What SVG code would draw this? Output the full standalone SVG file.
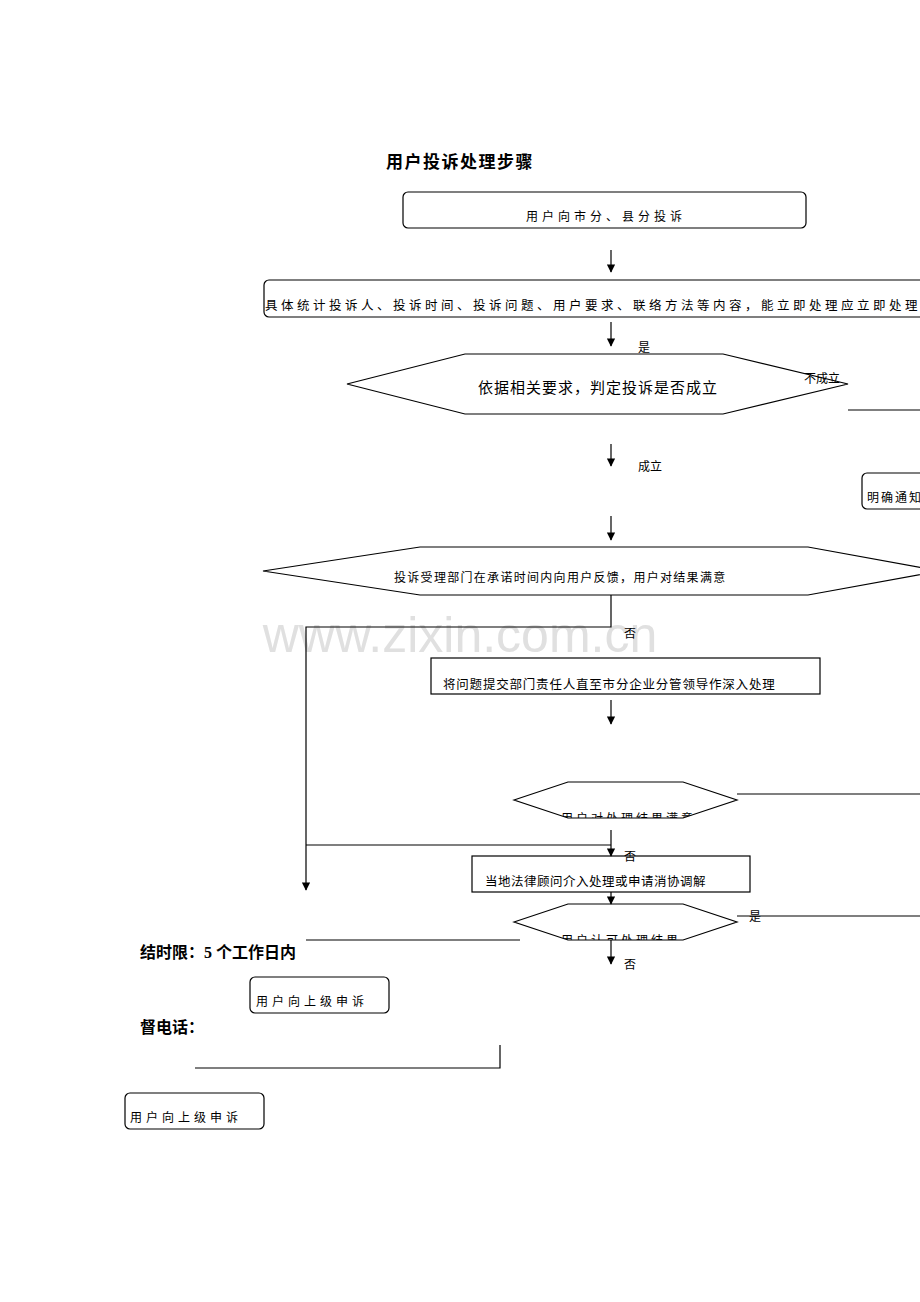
<svg xmlns="http://www.w3.org/2000/svg" width="920" height="1302" viewBox="0 0 920 1302">
<style>
text{font-family:"Liberation Serif","Noto Sans CJK SC",serif;fill:#000}
.s{fill:#fff;stroke:#000;stroke-width:1.2}
.l{stroke:#000;stroke-width:1.2;fill:none}
.b{font-weight:bold}
</style>
<defs>
<marker id="a" viewBox="0 0 10 10" refX="9" refY="5" markerWidth="7" markerHeight="7" orient="auto"><path d="M0,0L10,5L0,10z" fill="#000"/></marker>
<clipPath id="c3"><polygon points="514,800 568,782 683,782 737,800 683,818 568,818"/></clipPath>
<clipPath id="c4"><polygon points="514,922 568,904 683,904 737,922 683,940 568,940"/></clipPath>
</defs>
<rect width="920" height="1302" fill="#fff"/>
<text x="460" y="652" font-size="50" text-anchor="middle" style="fill:#e0e0e0;font-family:'Liberation Sans',sans-serif">www.zixin.com.cn</text>
<text x="386" y="168" font-size="17" class="b" letter-spacing="1.5">用户投诉处理步骤</text>
<g id="n1"><rect class="s" x="403" y="192" width="403" height="36" rx="5"/><text x="526" y="221" font-size="12" letter-spacing="4">用户向市分、县分投诉</text></g>
<g id="n2"><rect class="s" x="264" y="280" width="670" height="37" rx="5"/><text x="265" y="310" font-size="12.5" letter-spacing="3.5">具体统计投诉人、投诉时间、投诉问题、用户要求、联络方法等内容，能立即处理应立即处理</text></g>
<g id="n3"><polygon class="s" points="347,384 465,354 723,354 848,384 723,414 465,414"/><text x="478" y="393" font-size="15" letter-spacing="1">依据相关要求，判定投诉是否成立</text></g>
<g id="n4"><rect class="s" x="862" y="473" width="70" height="36" rx="5"/><text x="867" y="502" font-size="12" letter-spacing="2">明确通知用户</text></g>
<g id="n5"><polygon class="s" points="263,571 420,547 808,547 940,571 808,595 420,595"/><text x="394" y="582" font-size="12" letter-spacing="1.3">投诉受理部门在承诺时间内向用户反馈，用户对结果满意</text></g>
<g id="n6"><rect class="s" x="431" y="658" width="389" height="36"/><text x="443" y="689" font-size="12.5" letter-spacing="0.8">将问题提交部门责任人直至市分企业分管领导作深入处理</text></g>
<g id="n7"><polygon class="s" points="514,800 568,782 683,782 737,800 683,818 568,818"/><text x="561" y="823" font-size="12" letter-spacing="3" clip-path="url(#c3)">用户对处理结果满意</text></g>
<g id="n8"><rect class="s" x="472" y="856" width="278" height="36"/><text x="485" y="886" font-size="12.5" letter-spacing="0.5">当地法律顾问介入处理或申请消协调解</text></g>
<g id="n9"><polygon class="s" points="514,922 568,904 683,904 737,922 683,940 568,940"/><text x="561" y="945" font-size="12" letter-spacing="3" clip-path="url(#c4)">用户认可处理结果</text></g>
<g id="n10"><rect class="s" x="250" y="977" width="139" height="36" rx="5"/><text x="256" y="1006" font-size="12" letter-spacing="4">用户向上级申诉</text></g>
<g id="n11"><rect class="s" x="125" y="1093" width="139" height="36" rx="5"/><text x="130" y="1122" font-size="12" letter-spacing="4">用户向上级申诉</text></g>
<g id="edges">
<line class="l" x1="611" y1="250" x2="611" y2="272" marker-end="url(#a)"/>
<line class="l" x1="611" y1="322" x2="611" y2="346" marker-end="url(#a)"/>
<line class="l" x1="848" y1="410" x2="920" y2="410"/>
<line class="l" x1="611" y1="444" x2="611" y2="466" marker-end="url(#a)"/>
<line class="l" x1="611" y1="516" x2="611" y2="540" marker-end="url(#a)"/>
<polyline class="l" points="611,595 611,627 306,627 306,890" marker-end="url(#a)"/>
<line class="l" x1="611" y1="700" x2="611" y2="724" marker-end="url(#a)"/>
<line class="l" x1="737" y1="794" x2="920" y2="794"/>
<polyline class="l" points="306,845 611,845"/>
<line class="l" x1="611" y1="830" x2="611" y2="856" marker-end="url(#a)"/>
<line class="l" x1="611" y1="892" x2="611" y2="904" marker-end="url(#a)"/>
<line class="l" x1="737" y1="916" x2="920" y2="916"/>
<line class="l" x1="306" y1="940" x2="520" y2="940"/>
<line class="l" x1="611" y1="940" x2="611" y2="964" marker-end="url(#a)"/>
<polyline class="l" points="195,1068 500,1068 500,1045"/>
</g>
<text x="638" y="352" font-size="12">是</text>
<text x="804" y="383" font-size="12">不成立</text>
<text x="638" y="471" font-size="12">成立</text>
<text x="624" y="638" font-size="12">否</text>
<text x="624" y="861" font-size="12">否</text>
<text x="749" y="921" font-size="12">是</text>
<text x="624" y="969" font-size="12">否</text>
<text x="140" y="958" font-size="16" class="b">结时限：5 个工作日内</text>
<text x="140" y="1033" font-size="16" class="b">督电话：</text>
</svg>
